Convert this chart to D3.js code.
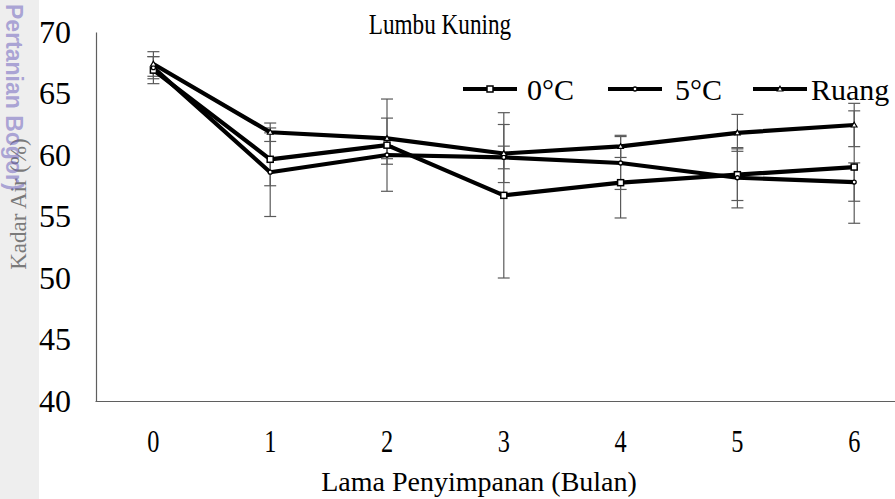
<!DOCTYPE html>
<html>
<head>
<meta charset="utf-8">
<script src="https://cdn.jsdelivr.net/npm/d3@7"></script>
<style>
  html, body { margin: 0; padding: 0; background: #ffffff; }
  svg { display: block; }
</style>
</head>
<body>
<script>
// Moisture content of Lumbu Kuning over storage time, three storage temperatures
const months = [0, 1, 2, 3, 4, 5, 6];
const seriesNames = ["0°C", "5°C", "Ruang"];
const mean0C    = [66.9, 59.65, 60.8, 56.72, 57.75, 58.4, 59.02];
const err0C     = [1.1, 2.15, 3.75, 6.72, 2.87, 2.1, 4.57];
const mean5C    = [67.1, 58.6, 60.0, 59.8, 59.35, 58.15, 57.8];
const err5C     = [0.9, 3.6, 0.75, 0.92, 2.15, 2.45, 1.56];
const meanRuang = [67.4, 61.85, 61.35, 60.12, 60.7, 61.8, 62.44];
const errRuang  = [1.0, 0.75, 1.65, 2.36, 0.9, 1.5, 1.76];
const yTicks = [40, 45, 50, 55, 60, 65, 70];

const W = 895, H = 499;
const FONT = "'Liberation Serif', 'Times New Roman', serif";

const series = [
  { name: seriesNames[0], mean: mean0C, err: err0C, marker: "square" },
  { name: seriesNames[1], mean: mean5C, err: err5C, marker: "circle" },
  { name: seriesNames[2], mean: meanRuang, err: errRuang, marker: "triangle" }
];

const svg = d3.select("body").append("svg")
  .attr("width", W).attr("height", H)
  .style("font-family", FONT);

// grey strip on the left edge
svg.append("rect").attr("x", 0).attr("y", 0).attr("width", 39).attr("height", H)
  .attr("fill", "#eeeeee");

const x = d3.scaleBand().domain(months).range([95, 912.6]).padding(0);
const cx = d => x(d) + x.bandwidth() / 2;
const y = d3.scaleLinear().domain([40, 70]).range([401, 32]);

// axes
const yAxis = svg.append("g").attr("transform", "translate(96,0)")
  .call(d3.axisLeft(y).tickValues(yTicks).tickSize(0).tickSizeOuter(0).tickPadding(25));
yAxis.attr("font-family", FONT);
yAxis.select(".domain").attr("stroke", "#5f5f5f").attr("stroke-width", 1.2);
yAxis.selectAll("text").attr("font-size", 32).attr("fill", "#000");

const xAxis = svg.append("g").attr("transform", "translate(0,401)")
  .call(d3.axisBottom(x).tickSize(0).tickSizeOuter(0).tickPadding(28));
xAxis.attr("font-family", FONT);
xAxis.select(".domain").attr("stroke", "#5f5f5f").attr("stroke-width", 1.2);
xAxis.selectAll("text").attr("font-size", 32).attr("fill", "#000")
  .attr("transform", "scale(0.76,1)");

// error bars
const capHalf = 6;
series.forEach(s => {
  const g = svg.append("g").attr("stroke", "#5a5a5a").attr("stroke-width", 1.2);
  months.forEach((m, i) => {
    const hi = y(s.mean[i] + s.err[i]), lo = y(s.mean[i] - s.err[i]), px = cx(m);
    g.append("line").attr("x1", px).attr("x2", px).attr("y1", hi).attr("y2", lo);
    g.append("line").attr("x1", px - capHalf).attr("x2", px + capHalf).attr("y1", hi).attr("y2", hi);
    g.append("line").attr("x1", px - capHalf).attr("x2", px + capHalf).attr("y1", lo).attr("y2", lo);
  });
});

// lines
const line = d3.line().x((d, i) => cx(months[i])).y(d => y(d));
series.forEach(s => {
  svg.append("path").datum(s.mean).attr("d", line)
    .attr("fill", "none").attr("stroke", "#000").attr("stroke-width", 4.2)
    .attr("stroke-linejoin", "round");
});

function drawMarker(g, type, px, py) {
  if (type === "square") {
    g.append("rect").attr("x", px - 3).attr("y", py - 3).attr("width", 6).attr("height", 6)
      .attr("fill", "#fff").attr("stroke", "#000").attr("stroke-width", 1.5);
  } else if (type === "circle") {
    g.append("circle").attr("cx", px).attr("cy", py).attr("r", 2)
      .attr("fill", "#fff").attr("stroke", "#000").attr("stroke-width", 1.3);
  } else {
    g.append("path").attr("d", `M${px},${py - 2.8}L${px + 2.8},${py + 2}L${px - 2.8},${py + 2}Z`)
      .attr("fill", "#fff").attr("stroke", "#000").attr("stroke-width", 1.2);
  }
}

const markers = svg.append("g");
series.forEach(s => {
  months.forEach((m, i) => drawMarker(markers, s.marker, cx(m), y(s.mean[i])));
});

// title
svg.append("text").attr("x", 440).attr("y", 34).attr("text-anchor", "middle")
  .attr("font-size", 29).attr("transform", "translate(440,0) scale(0.8,1) translate(-440,0)")
  .text("Lumbu Kuning");

// legend
const legendY = 89;
const legendItems = [
  { x1: 463, x2: 517, tx: 527 },
  { x1: 608, x2: 662, tx: 675 },
  { x1: 753, x2: 807, tx: 811 }
];
series.forEach((s, i) => {
  const L = legendItems[i];
  const g = svg.append("g");
  g.append("line").attr("x1", L.x1).attr("x2", L.x2).attr("y1", legendY).attr("y2", legendY)
    .attr("stroke", "#000").attr("stroke-width", 4.2);
  drawMarker(g, s.marker, (L.x1 + L.x2) / 2, legendY);
  g.append("text").attr("x", L.tx).attr("y", legendY + 11).attr("font-size", 30).text(s.name);
});

// axis titles
svg.append("text").attr("x", 479).attr("y", 491).attr("text-anchor", "middle")
  .attr("font-size", 28)
  .text("Lama Penyimpanan (Bulan)");

svg.append("text").attr("transform", "translate(26,204) rotate(-90)")
  .attr("text-anchor", "middle").attr("font-size", 23).attr("fill", "#7a7a7a")
  .text("Kadar Air (%)");

// faint watermark over the strip
svg.append("text").attr("transform", "translate(6,4) rotate(90)")
  .attr("font-family", "'Liberation Sans', Arial, sans-serif").attr("font-weight", "bold")
  .attr("font-size", 23).attr("fill", "rgba(110,100,190,0.55)")
  .text("Pertanian Bogor)");
</script>
</body>
</html>
